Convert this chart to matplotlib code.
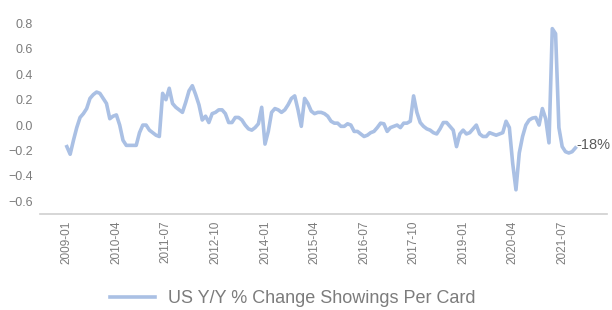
import numpy as np
import pandas as pd
import matplotlib
matplotlib.use("Agg")
import matplotlib.pyplot as plt

plt.rcParams["font.family"] = ["Liberation Sans", "DejaVu Sans"]

# monthly series, 2009-01 .. 2021-11
months = pd.period_range("2009-01", periods=155, freq="M").strftime("%Y-%m")
yoy = [
    -0.17, -0.23, -0.12, -0.02, 0.06, 0.09, 0.13, 0.21, 0.24, 0.26,
    0.25, 0.21, 0.17, 0.05, 0.07, 0.08, 0.00, -0.12, -0.16, -0.16,
    -0.16, -0.16, -0.06, 0.00, 0.00, -0.04, -0.06, -0.08, -0.09, 0.25,
    0.20, 0.29, 0.17, 0.14, 0.12, 0.10, 0.18, 0.27, 0.31, 0.24,
    0.16, 0.04, 0.07, 0.02, 0.09, 0.10, 0.12, 0.12, 0.09, 0.02,
    0.02, 0.06, 0.06, 0.04, 0.00, -0.03, -0.04, -0.02, 0.01, 0.14,
    -0.15, -0.05, 0.10, 0.13, 0.12, 0.10, 0.12, 0.16, 0.21, 0.23,
    0.12, -0.01, 0.21, 0.17, 0.11, 0.09, 0.10, 0.10, 0.09, 0.07,
    0.03, 0.015, 0.015, -0.01, -0.01, 0.01, 0.00, -0.05, -0.05, -0.07,
    -0.09, -0.08, -0.06, -0.05, -0.02, 0.015, 0.01, -0.05, -0.02, -0.01,
    0.00, -0.02, 0.015, 0.015, 0.03, 0.23, 0.10, 0.02, -0.01, -0.03,
    -0.04, -0.06, -0.07, -0.03, 0.02, 0.02, -0.01, -0.04, -0.17, -0.07,
    -0.04, -0.07, -0.06, -0.03, 0.00, -0.07, -0.09, -0.09, -0.06, -0.07,
    -0.08, -0.07, -0.06, 0.03, -0.02, -0.30, -0.51, -0.22, -0.09, 0.00,
    0.04, 0.055, 0.06, 0.00, 0.13, 0.05, -0.14, 0.76, 0.72, -0.02,
    -0.17, -0.21, -0.22, -0.21, -0.18,
]
last_label = "-18%"
series_name = "US Y/Y % Change Showings Per Card"
yticks = [-0.6, -0.4, -0.2, 0.0, 0.2, 0.4, 0.6, 0.8]

line_color = "#aac0e4"
text_gray = "#7c7c7c"

fig = plt.figure(figsize=(6.12, 3.10), dpi=100)
ax = fig.add_axes([0.065, 0.31, 0.927, 0.655])

x = np.arange(len(yoy))
ax.plot(x, yoy, color=line_color, lw=2.6, label=series_name, solid_joinstyle="round")

ax.annotate(last_label, xy=(x[-1], yoy[-1]), xytext=(1, 2), textcoords="offset points",
            ha="left", va="center", fontsize=10.5, color="#5a5a5a")

ax.set_xlim(-8.2, 163.6)
ax.set_ylim(-0.70, 0.90)
ax.set_xticks(x[::15])
ax.set_xticklabels(months[::15], rotation=90, fontsize=8.5, color=text_gray)
ax.set_yticks(yticks)
ax.set_yticklabels([f"{v:.1f}".replace("-", "\u2212") for v in yticks], fontsize=9, color=text_gray)
ax.tick_params(length=0, pad=5)

for side in ["top", "right", "left"]:
    ax.spines[side].set_visible(False)
ax.spines["bottom"].set_color("#cfcfcf")
ax.spines["bottom"].set_linewidth(1.2)

fig.legend(loc="center", bbox_to_anchor=(0.478, 0.037), frameon=False,
           fontsize=13, labelcolor=text_gray, handlelength=2.5, handletextpad=0.7)

fig.savefig("out.png", dpi=100)
